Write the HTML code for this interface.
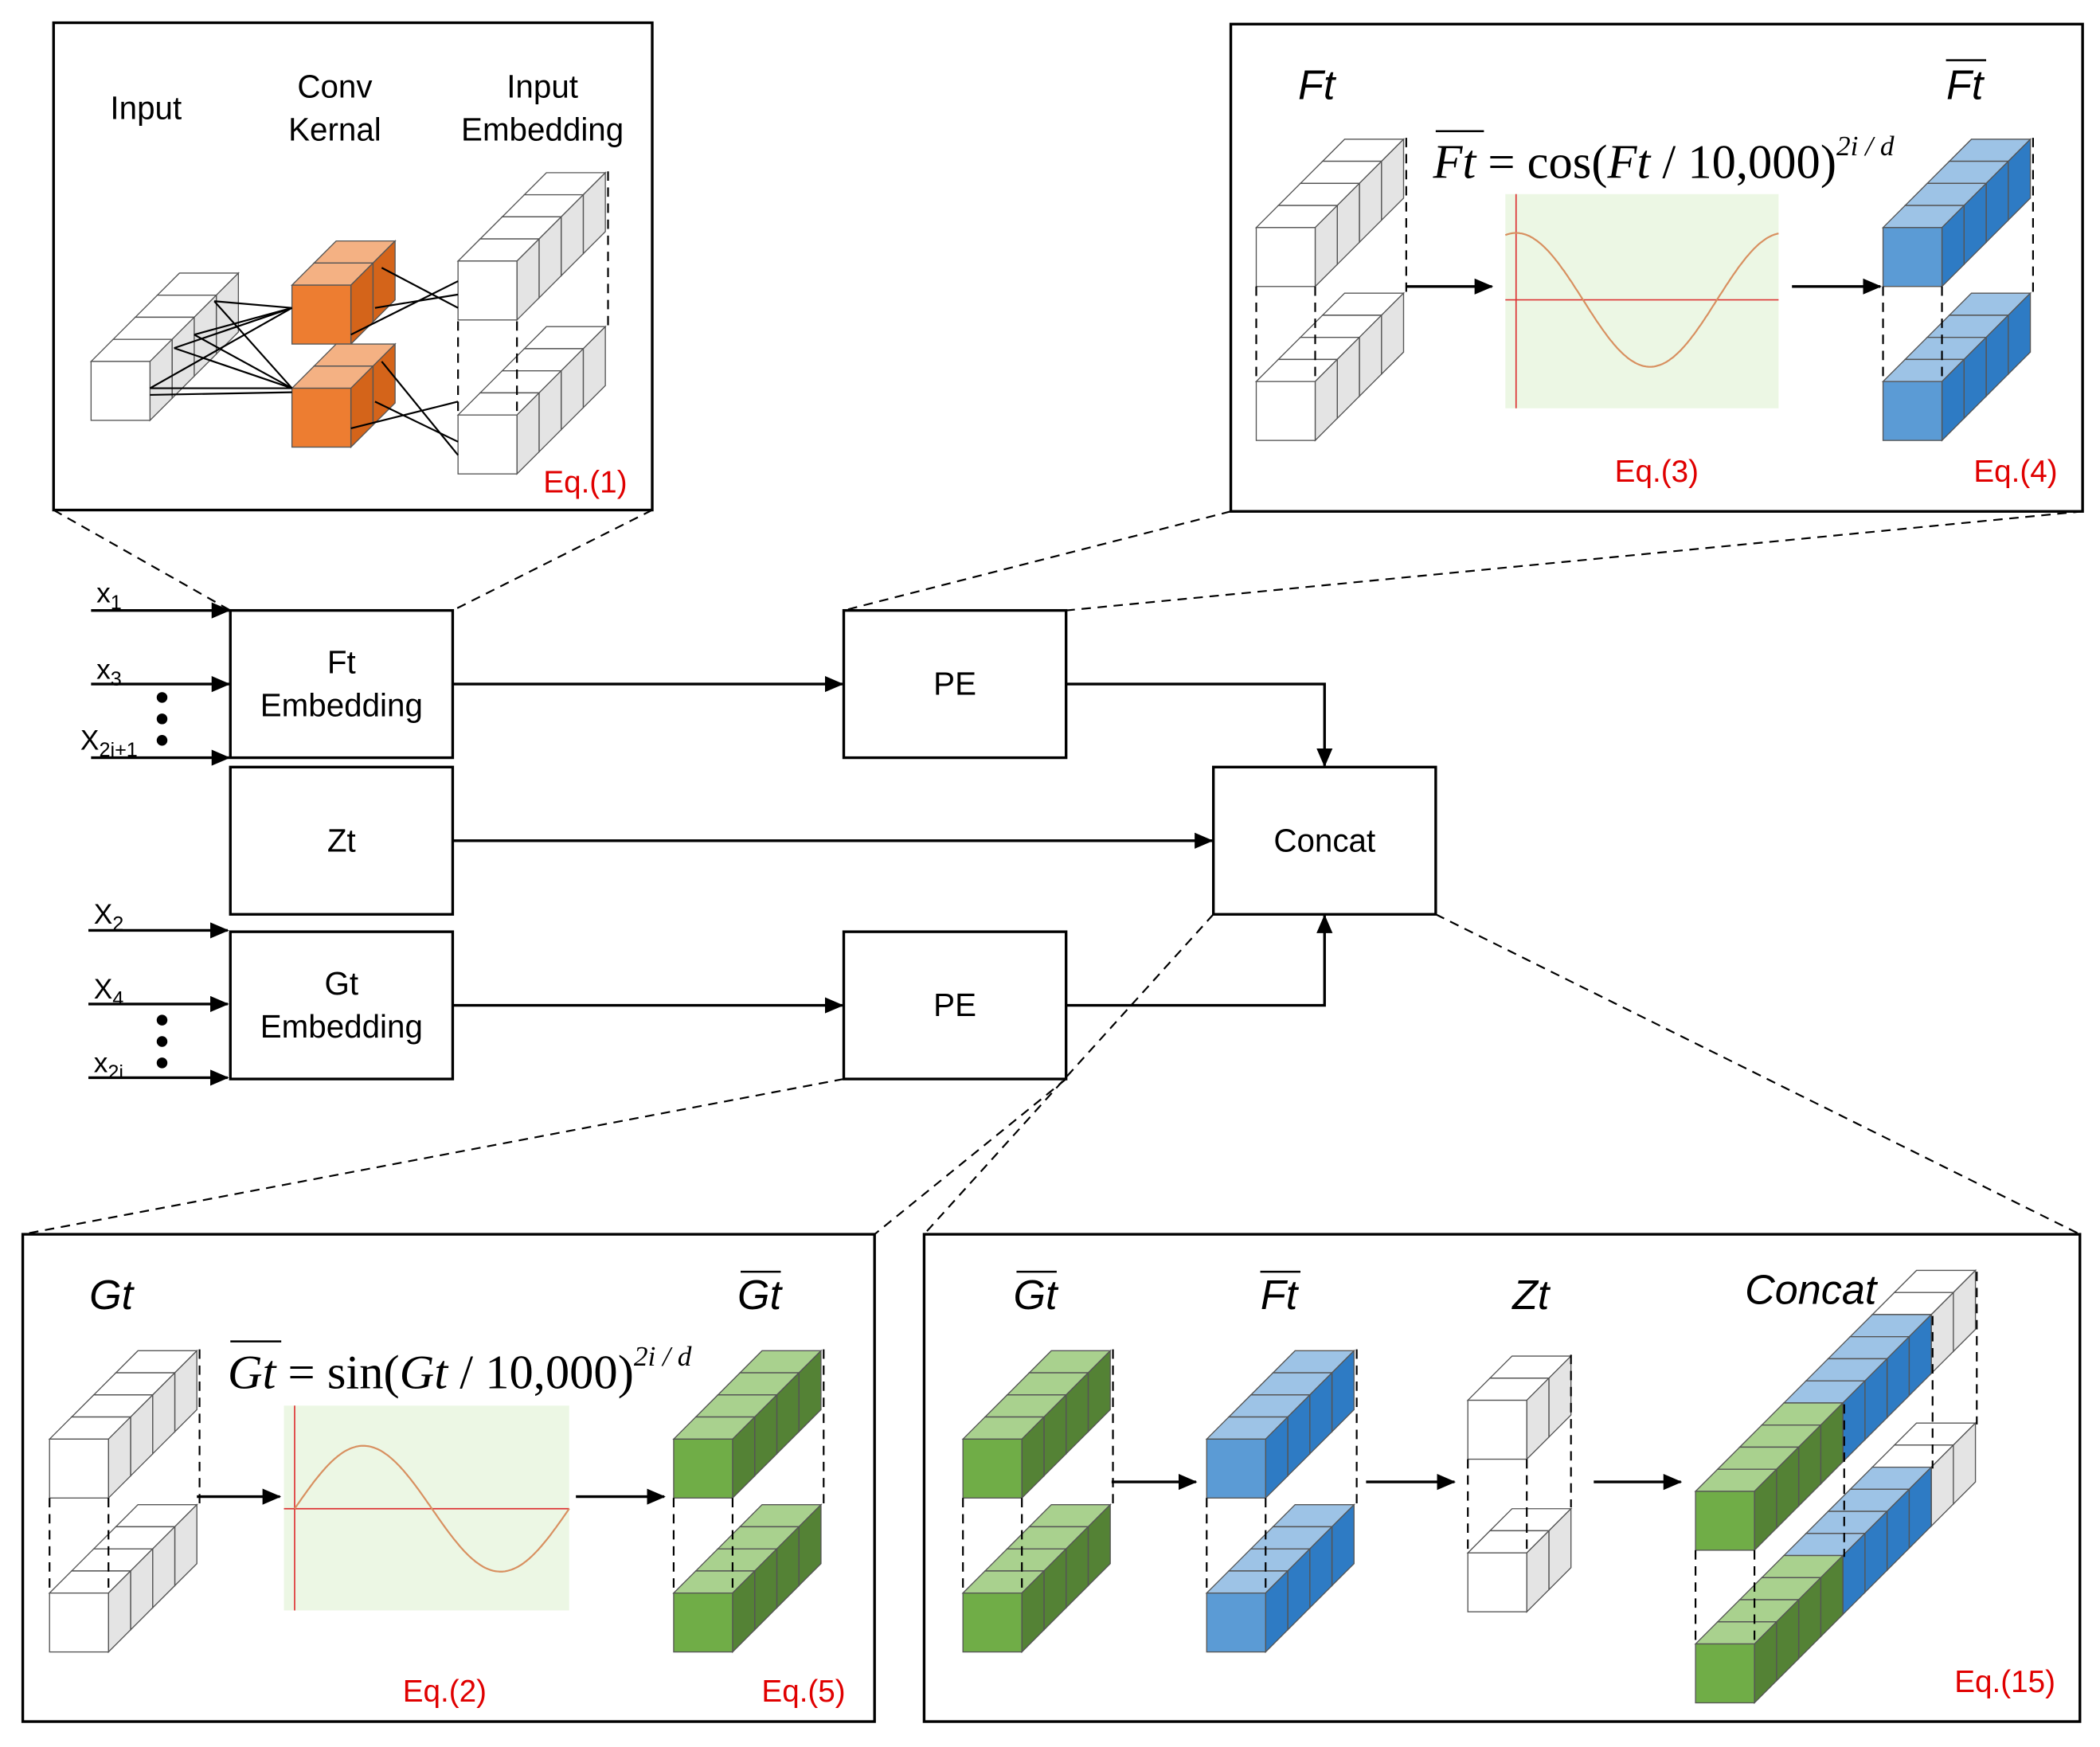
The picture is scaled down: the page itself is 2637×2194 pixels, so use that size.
<!DOCTYPE html>
<html><head><meta charset="utf-8"><style>
html,body{margin:0;padding:0;background:#fff}
svg{display:block}
text{font-family:"Liberation Sans",sans-serif}
.it{font-family:"Liberation Serif",serif;font-style:italic}
.sf{font-family:"Liberation Serif",serif}
</style></head><body>
<svg id="s" width="2637" height="2194" viewBox="0 0 1568 1305" preserveAspectRatio="none" xmlns="http://www.w3.org/2000/svg">
<defs><marker id="a" markerWidth="14" markerHeight="14" refX="13" refY="6" orient="auto" markerUnits="userSpaceOnUse"><path d="M0,0 L14,6 L0,12z" fill="#000"/></marker></defs>
<g fill="none" stroke="#000" stroke-width="2">
<rect x="40" y="17" width="447" height="364"/>
<rect x="919" y="18" width="636" height="364"/>
<rect x="17" y="922" width="636" height="364"/>
<rect x="690" y="922" width="863" height="364"/>
<rect x="172" y="456" width="166" height="110"/>
<rect x="172" y="573" width="166" height="110"/>
<rect x="172" y="696" width="166" height="110"/>
<rect x="630" y="456" width="166" height="110"/>
<rect x="630" y="696" width="166" height="110"/>
<rect x="906" y="573" width="166" height="110"/>
</g>
<g fill="none" stroke="#000" stroke-width="1.3" stroke-dasharray="7,5">
<line x1="40" y1="381" x2="172" y2="456"/><line x1="487" y1="381" x2="338" y2="456"/>
<line x1="919" y1="382" x2="630" y2="456"/><line x1="1555" y1="382" x2="796" y2="456"/>
<line x1="630" y1="806" x2="17" y2="922"/><line x1="796" y1="806" x2="653" y2="922"/>
<line x1="906" y1="683" x2="690" y2="922"/><line x1="1072" y1="683" x2="1553" y2="922"/>
</g>
<g fill="none" stroke="#000" stroke-width="2" marker-end="url(#a)">
<line x1="68" y1="456" x2="171" y2="456"/><line x1="68" y1="511" x2="171" y2="511"/><line x1="68" y1="566" x2="171" y2="566"/>
<line x1="66" y1="695" x2="170" y2="695"/><line x1="66" y1="750" x2="170" y2="750"/><line x1="66" y1="805" x2="170" y2="805"/>
<line x1="338" y1="511" x2="629" y2="511"/>
<polyline points="796,511 989,511 989,572"/>
<line x1="338" y1="628" x2="905" y2="628"/>
<line x1="338" y1="751" x2="629" y2="751"/>
<polyline points="796,751 989,751 989,684"/>
<line x1="1050" y1="214" x2="1114" y2="214"/><line x1="1338" y1="214" x2="1404" y2="214"/>
<line x1="147" y1="1118" x2="209" y2="1118"/><line x1="430" y1="1118" x2="496" y2="1118"/>
<line x1="830" y1="1107" x2="893" y2="1107"/><line x1="1020" y1="1107" x2="1086" y2="1107"/><line x1="1190" y1="1107" x2="1255" y2="1107"/>
</g>
<g fill="#000"><circle cx="121" cy="521" r="4"/><circle cx="121" cy="537" r="4"/><circle cx="121" cy="553" r="4"/>
<circle cx="121" cy="762" r="4"/><circle cx="121" cy="778" r="4"/><circle cx="121" cy="794" r="4"/></g>
<g font-size="21" fill="#000">
<text x="72" y="450">x<tspan font-size="15" dy="5">1</tspan></text>
<text x="72" y="507">x<tspan font-size="15" dy="5">3</tspan></text>
<text x="60" y="560">X<tspan font-size="15" dy="5">2i+1</tspan></text>
<text x="70" y="690">X<tspan font-size="15" dy="5">2</tspan></text>
<text x="70" y="746">X<tspan font-size="15" dy="5">4</tspan></text>
<text x="70" y="801">x<tspan font-size="15" dy="5">2i</tspan></text>
</g>
<g font-size="24" text-anchor="middle" fill="#000">
<text x="255" y="503">Ft</text><text x="255" y="535">Embedding</text>
<text x="255" y="636">Zt</text>
<text x="255" y="743">Gt</text><text x="255" y="775">Embedding</text>
<text x="713" y="519">PE</text><text x="713" y="759">PE</text>
<text x="989" y="636">Concat</text>
<text x="109" y="89">Input</text>
<text x="250" y="73">Conv</text><text x="250" y="105">Kernal</text>
<text x="405" y="73">Input</text><text x="405" y="105">Embedding</text>
</g>
<g font-size="23" fill="#e00000" text-anchor="middle">
<text x="437" y="368">Eq.(1)</text><text x="1237" y="360">Eq.(3)</text><text x="1505" y="360">Eq.(4)</text>
<text x="332" y="1271">Eq.(2)</text><text x="600" y="1271">Eq.(5)</text><text x="1497" y="1264">Eq.(15)</text>
</g>
<g class="it" font-size="31" fill="#000" text-anchor="middle">
<text x="983" y="74">Ft</text><text x="1467" y="74">Ft</text>
<text x="83" y="978">Gt</text><text x="567" y="978">Gt</text>
<text x="773" y="978">Gt</text><text x="955" y="978">Ft</text><text x="1143" y="978">Zt</text><text x="1352" y="974">Concat</text>
</g>
<g stroke="#000" stroke-width="1.5">
<line x1="1453" y1="45" x2="1483" y2="45"/><line x1="553" y1="950" x2="583" y2="950"/>
<line x1="759" y1="950" x2="789" y2="950"/><line x1="941" y1="950" x2="971" y2="950"/>
<line x1="1072" y1="98" x2="1108" y2="98"/><line x1="172" y1="1002" x2="210" y2="1002"/>
</g>
<text x="1070" y="133" font-size="36" class="sf"><tspan class="it">Ft</tspan> = cos(<tspan class="it">Ft</tspan> / 10,000)<tspan class="it" font-size="21" dy="-17">2i / d</tspan></text>
<text x="170" y="1037" font-size="36" class="sf"><tspan class="it">Gt</tspan> = sin(<tspan class="it">Gt</tspan> / 10,000)<tspan class="it" font-size="21" dy="-17">2i / d</tspan></text>
<rect x="1124" y="145" width="204" height="160" fill="#ecf7e4"/>
<line x1="1124" y1="224" x2="1328" y2="224" stroke="#d33" stroke-width="1"/><line x1="1132" y1="145" x2="1132" y2="305" stroke="#d33" stroke-width="1"/>
<path id="c1" fill="none" stroke="#d89060" stroke-width="1.3"/>
<rect x="212" y="1050" width="213" height="153" fill="#ecf7e4"/>
<line x1="212" y1="1127" x2="425" y2="1127" stroke="#d33" stroke-width="1"/><line x1="220" y1="1050" x2="220" y2="1203" stroke="#d33" stroke-width="1"/>
<path id="c2" fill="none" stroke="#d89060" stroke-width="1.3"/>
<g id="cubes"></g>
</svg>
<script>
var NS="http://www.w3.org/2000/svg",G=document.getElementById("cubes");
var C={w:["#fff","#fff","#e4e4e4"],o:["#ed7d31","#f4b183","#d4641a"],g:["#70ad47","#a9d18e","#548235"],b:["#5b9bd5","#9dc3e6","#2e7bc4"]};
function el(t,a){var e=document.createElementNS(NS,t);for(var k in a)e.setAttribute(k,a[k]);G.appendChild(e);return e}
function stack(x,y,s,cols,d){d=d||16.5;var n=cols.length;for(var k=n-1;k>=0;k--){var c=C[cols[k]],x0=x+k*d,y0=y-k*d;var st={stroke:"#555","stroke-width":0.8};
el("polygon",Object.assign({points:[x0,y0,x0+d,y0-d,x0+s+d,y0-d,x0+s,y0].join(","),fill:c[1]},st));
el("polygon",Object.assign({points:[x0+s,y0,x0+s+d,y0-d,x0+s+d,y0+s-d,x0+s,y0+s].join(","),fill:c[2]},st));
el("rect",Object.assign({x:x0,y:y0,width:s,height:s,fill:c[0]},st));}}
function dash(x1,y1,x2,y2){el("line",{x1:x1,y1:y1,x2:x2,y2:y2,stroke:"#000","stroke-width":1.3,"stroke-dasharray":"7,5"})}
function line(x1,y1,x2,y2){el("line",{x1:x1,y1:y1,x2:x2,y2:y2,stroke:"#000","stroke-width":1.3})}
var W4=["w","w","w","w"];
stack(68,270,44,W4);
stack(218,213,44,["o","o"]);stack(218,290,44,["o","o"]);
stack(342,310,44,W4);stack(342,195,44,W4);
dash(342,240,342,310);dash(386,240,386,310);dash(454,128,454,243);
[[112,290],[130,260],[145,250],[160,225]].forEach(function(p){line(p[0],p[1],218,230);line(p[0],p[1],218,290)});
line(112,295,218,293);line(262,250,342,210);line(280,230,342,220);line(285,200,342,230);line(262,320,342,300);line(280,300,342,330);line(285,270,342,340);
stack(938,285,44,W4);stack(938,170,44,W4);dash(938,214,938,285);dash(982,214,982,285);dash(1050,103,1050,218);
stack(1406,285,44,["b","b","b","b"]);stack(1406,170,44,["b","b","b","b"]);dash(1406,214,1406,285);dash(1450,214,1450,285);dash(1518,103,1518,218);
stack(37,1190,44,W4);stack(37,1075,44,W4);dash(37,1119,37,1190);dash(81,1119,81,1190);dash(149,1008,149,1123);
var G4=["g","g","g","g"],B4=["b","b","b","b"];
stack(503,1190,44,G4);stack(503,1075,44,G4);dash(503,1119,503,1190);dash(547,1119,547,1190);dash(615,1008,615,1123);
stack(719,1190,44,G4);stack(719,1075,44,G4);dash(719,1119,719,1190);dash(763,1119,763,1190);dash(831,1008,831,1123);
stack(901,1190,44,B4);stack(901,1075,44,B4);dash(901,1119,901,1190);dash(945,1119,945,1190);dash(1013,1008,1013,1123);
stack(1096,1160,44,["w","w"]);stack(1096,1046,44,["w","w"]);dash(1096,1090,1096,1160);dash(1140,1090,1140,1160);dash(1173,1012,1173,1126);
var CC=["g","g","g","g","b","b","b","b","w","w"];
stack(1266,1228,44,CC);stack(1266,1114,44,CC);dash(1266,1158,1266,1228);dash(1310,1158,1310,1228);dash(1476,950,1476,1064);dash(1443,983,1443,1097);dash(1377,1049,1377,1163);
var p="";for(var i=0;i<=200;i++){var x=1124+i*1.02,v=Math.cos((x-1132)/150*2*Math.PI*0.75);p+=(i?"L":"M")+x.toFixed(1)+","+(224-50*v).toFixed(1)}
document.getElementById("c1").setAttribute("d",p);
p="";for(var i=0;i<=205;i++){var x=220+i,v=Math.sin((x-220)/205*2*Math.PI);p+=(i?"L":"M")+x+","+(1127-47*v).toFixed(1)}
document.getElementById("c2").setAttribute("d",p);
</script>
</body></html>
